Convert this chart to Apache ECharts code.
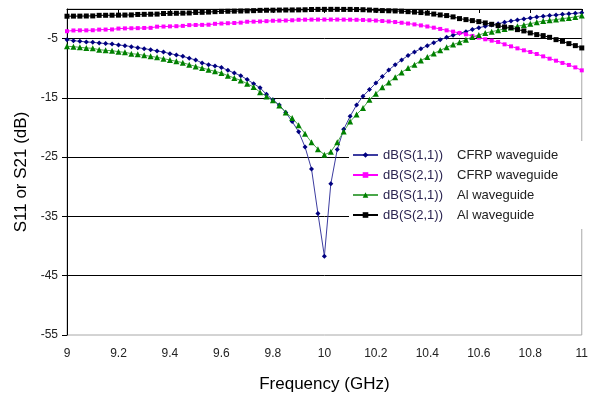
<!DOCTYPE html>
<html>
<head>
<meta charset="utf-8">
<script src="https://cdn.jsdelivr.net/npm/echarts@6/dist/echarts.min.js"></script>
<style>
html,body{margin:0;padding:0;background:#fff;}
#chart{width:591px;height:398px;}
</style>
</head>
<body>
<div id="chart"></div>
<script>
// Frequency points (GHz)
var freq = [
9.000,9.025,9.050,9.075,9.100,9.125,9.150,9.175,9.200,9.225,9.250,9.275,9.300,9.325,9.350,9.375,9.400,9.425,9.450,9.475,9.500,
9.525,9.550,9.575,9.600,9.625,9.650,9.675,9.700,9.725,9.750,9.775,9.800,9.825,9.850,9.875,9.900,9.925,9.950,9.975,10.000,
10.025,10.050,10.075,10.100,10.125,10.150,10.175,10.200,10.225,10.250,10.275,10.300,10.325,10.350,10.375,10.400,10.425,10.450,10.475,10.500,
10.525,10.550,10.575,10.600,10.625,10.650,10.675,10.700,10.725,10.750,10.775,10.800,10.825,10.850,10.875,10.900,10.925,10.950,10.975,11.000
];
// dB(S(1,1)) CFRP waveguide
var s11CFRP = [
-5.17,-5.34,-5.45,-5.56,-5.62,-5.73,-5.84,-5.92,-6.07,-6.18,-6.35,-6.52,-6.69,-6.86,-7.08,-7.25,-7.53,-7.75,-7.99,-8.30,-8.60,
-9.10,-9.40,-9.60,-9.85,-10.35,-10.80,-11.25,-11.90,-12.60,-13.30,-14.40,-15.30,-16.20,-17.45,-19.00,-20.70,-23.30,-27.00,-34.50,-41.70,
-29.50,-23.70,-20.30,-18.10,-16.20,-14.70,-13.60,-12.50,-11.40,-10.30,-9.40,-8.60,-7.85,-7.25,-6.70,-6.20,-5.70,-5.20,-4.78,-4.44,
-4.10,-3.82,-3.45,-3.15,-2.92,-2.69,-2.47,-2.25,-2.03,-1.84,-1.67,-1.50,-1.35,-1.23,-1.11,-1.00,-0.90,-0.82,-0.72,-0.62
];
// dB(S(2,1)) CFRP waveguide
var s21CFRP = [
-3.75,-3.62,-3.60,-3.60,-3.58,-3.48,-3.47,-3.45,-3.30,-3.27,-3.25,-3.23,-3.20,-3.18,-2.98,-2.96,-2.93,-2.90,-2.85,-2.72,-2.70,
-2.68,-2.65,-2.50,-2.45,-2.40,-2.36,-2.30,-2.15,-2.13,-2.10,-2.05,-1.98,-1.96,-1.94,-1.90,-1.82,-1.80,-1.79,-1.78,-1.78,
-1.78,-1.78,-1.79,-1.80,-1.82,-1.85,-1.90,-1.95,-2.02,-2.10,-2.20,-2.32,-2.45,-2.60,-2.77,-2.95,-3.15,-3.36,-3.60,-3.82,
-4.04,-4.27,-4.54,-4.83,-5.11,-5.34,-5.56,-5.96,-6.30,-6.64,-6.97,-7.25,-7.59,-7.99,-8.38,-8.72,-9.10,-9.44,-9.85,-10.35
];
// dB(S(1,1)) Al waveguide
var s11Al = [
-6.30,-6.35,-6.47,-6.57,-6.64,-6.86,-6.98,-7.03,-7.20,-7.31,-7.53,-7.65,-7.82,-7.99,-8.16,-8.38,-8.60,-8.83,-9.05,-9.39,-9.68,
-9.95,-10.24,-10.52,-10.80,-11.25,-11.64,-12.05,-12.60,-13.15,-14.05,-14.75,-15.40,-16.30,-17.45,-18.40,-19.60,-21.05,-22.50,-23.65,-24.60,
-24.10,-22.50,-20.65,-19.00,-17.80,-16.70,-15.30,-14.30,-13.20,-12.40,-11.50,-10.70,-9.95,-9.40,-8.70,-8.10,-7.50,-6.97,-6.47,-6.01,
-5.62,-5.17,-4.71,-4.38,-4.04,-3.82,-3.60,-3.36,-3.14,-2.92,-2.69,-2.47,-2.25,-2.01,-1.91,-1.79,-1.62,-1.50,-1.33,-1.11
];
// dB(S(2,1)) Al waveguide
var s21Al = [
-1.22,-1.20,-1.20,-1.18,-1.17,-1.07,-1.06,-1.05,-1.04,-1.02,-1.00,-0.92,-0.90,-0.88,-0.86,-0.76,-0.74,-0.72,-0.70,-0.67,-0.58,
-0.56,-0.52,-0.45,-0.40,-0.38,-0.36,-0.34,-0.32,-0.28,-0.23,-0.21,-0.20,-0.18,-0.17,-0.16,-0.15,-0.13,-0.08,-0.07,-0.06,
-0.06,-0.06,-0.07,-0.07,-0.09,-0.12,-0.17,-0.22,-0.27,-0.30,-0.33,-0.37,-0.45,-0.52,-0.60,-0.70,-0.85,-1.00,-1.11,-1.33,
-1.62,-1.79,-1.96,-2.13,-2.35,-2.58,-2.80,-3.03,-3.14,-3.48,-3.70,-4.04,-4.32,-4.49,-4.78,-5.17,-5.45,-5.84,-6.18,-6.57
];
var seriesNames = [
  'dB(S(1,1))|CFRP waveguide',
  'dB(S(2,1))|CFRP waveguide',
  'dB(S(1,1))|Al waveguide',
  'dB(S(2,1))|Al waveguide'
];
var xTitle = 'Frequency (GHz)';
var yTitle = 'S11 or S21 (dB)';

function pairs(ys){ return freq.map(function(f,i){ return [f, ys[i]]; }); }

var FONT = '"Liberation Sans", Arial, sans-serif';
var chart = echarts.init(document.getElementById('chart'), null, {renderer:'canvas'});

function mk(name, ys, color, lineColor, symbol, size){
  return {
    name: name, type: 'line', data: pairs(ys),
    symbol: symbol, symbolSize: size,
    itemStyle: {color: color},
    lineStyle: {color: lineColor, width: 1},
    emphasis: {disabled: true},
    animation: false
  };
}

chart.setOption({
  backgroundColor: '#fff',
  animation: false,
  grid: {left: 67, right: 6, top: 9, bottom: 63, show: true, borderColor: '#a8a8a8', borderWidth: 1},
  xAxis: {
    type: 'value', min: 9, max: 11, interval: 0.2,
    name: xTitle, nameLocation: 'middle', nameGap: 41,
    nameTextStyle: {fontFamily: FONT, fontSize: 17, color: '#000'},
    axisLine: {show: true, lineStyle: {color: '#000', width: 1}},
    axisTick: {show: true, length: 4, lineStyle: {color: '#000'}},
    axisLabel: {fontFamily: FONT, fontSize: 12, color: '#222', margin: 13},
    splitLine: {show: false}
  },
  yAxis: {
    type: 'value', min: -55, max: 0, interval: 10,
    name: yTitle, nameLocation: 'middle', nameGap: 36, nameRotate: 90,
    nameTextStyle: {fontFamily: FONT, fontSize: 17, color: '#000'},
    axisLine: {show: true, onZero: false, lineStyle: {color: '#000', width: 1}},
    axisTick: {show: true, length: 5, lineStyle: {color: '#000'}},
    axisLabel: {fontFamily: FONT, fontSize: 12, color: '#222', margin: 9, showMaxLabel: false},
    splitLine: {show: true, showMinLine: false, showMaxLine: false, lineStyle: {color: '#000', width: 1}}
  },
  legend: {
    orient: 'vertical', left: 349, top: 141,
    padding: [6, 30, 6, 3], itemGap: 4, itemWidth: 25, itemHeight: 7,
    backgroundColor: '#fff',
    data: seriesNames,
    formatter: function(n){ var p = n.split('|'); return '{a|' + p[0] + '}{b|' + p[1] + '}'; },
    textStyle: {
      fontFamily: FONT, fontSize: 13, color: '#222', lineHeight: 16,
      rich: {
        a: {fontFamily: FONT, fontSize: 13, color: '#2a2450', width: 74, lineHeight: 16},
        b: {fontFamily: FONT, fontSize: 13, color: '#222', lineHeight: 16}
      }
    }
  },
  series: [
    mk(seriesNames[0], s11CFRP, '#000080', '#3c3ca0', 'diamond', 5),
    mk(seriesNames[1], s21CFRP, '#ff00ff', '#ff00ff', 'rect', 4),
    mk(seriesNames[2], s11Al, '#008000', '#4aa84a', 'triangle', 6),
    mk(seriesNames[3], s21Al, '#000000', '#000000', 'rect', 5)
  ]
});
</script>
</body>
</html>
